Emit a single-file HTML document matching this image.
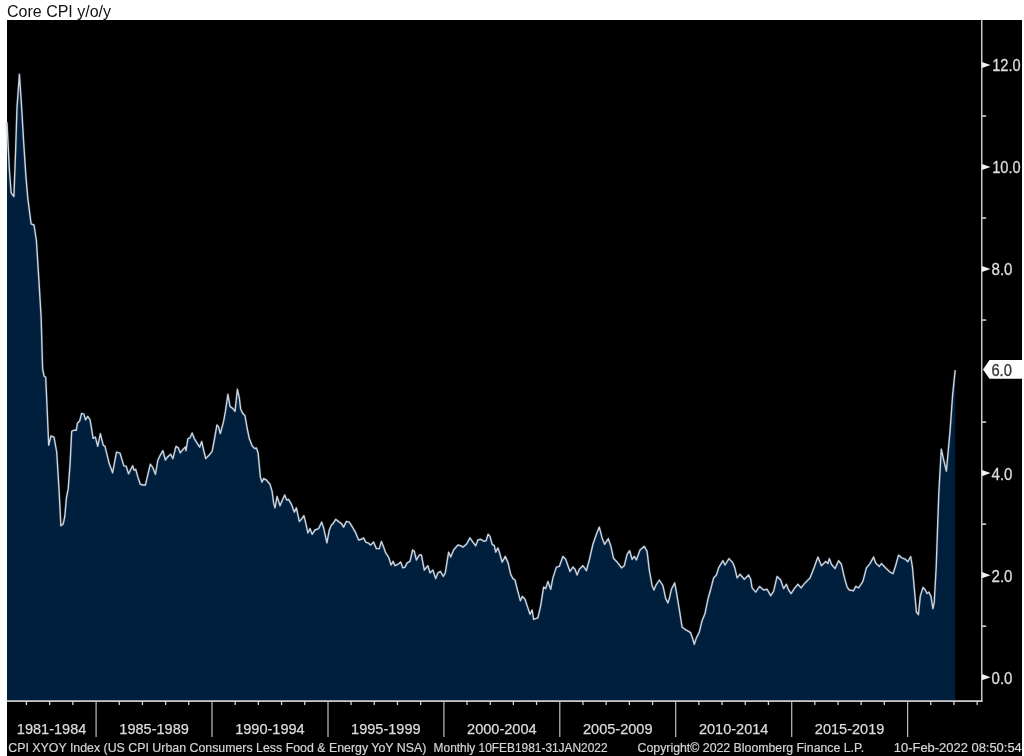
<!DOCTYPE html>
<html><head><meta charset="utf-8"><style>
html,body{margin:0;padding:0;width:1024px;height:756px;overflow:hidden;background:#fff;}
#t{will-change:transform;position:absolute;left:7px;top:3px;font-family:"Liberation Sans",sans-serif;font-size:16px;color:#111;white-space:nowrap;}
svg{position:absolute;left:0;top:0;will-change:transform;}
.yl{font-family:"Liberation Sans",sans-serif;font-size:16.8px;fill:#dcdcdc;stroke:#dcdcdc;stroke-width:0.3px;}
.xl{font-family:"Liberation Sans",sans-serif;font-size:15px;fill:#dcdcdc;stroke:#dcdcdc;stroke-width:0.25px;}
.ft{font-family:"Liberation Sans",sans-serif;font-size:12.5px;fill:#d4d4d4;stroke:#d4d4d4;stroke-width:0.2px;}
</style></head><body>
<div id="t">Core CPI y/o/y</div>
<svg width="1024" height="756" viewBox="0 0 1024 756">
<rect x="7" y="20" width="1015" height="736" fill="#000"/>
<path d="M7,701 L7.0,122.4 L7.8,139.0 L9.3,168.7 L11.1,192.8 L13.9,196.5 L15.7,148.3 L17.0,107.6 L19.4,74.3 L21.3,102.0 L23.7,142.8 L25.9,176.1 L27.8,198.3 L31.1,223.8 L34.0,225.0 L36.4,240.5 L38.8,278.6 L41.1,316.7 L42.6,369.0 L44.1,376.1 L45.7,377.3 L47.0,406.0 L48.7,445.2 L51.0,436.0 L54.0,437.1 L56.7,452.0 L59.0,488.9 L60.9,525.7 L63.2,523.9 L64.8,516.5 L66.4,498.0 L68.2,488.9 L70.1,463.6 L71.7,431.3 L74.0,430.2 L76.3,430.2 L77.4,423.3 L79.7,421.0 L81.6,413.4 L83.9,414.1 L85.5,419.8 L87.8,416.4 L90.1,419.8 L93.1,438.3 L95.4,437.1 L97.7,446.3 L100.4,433.6 L103.2,445.2 L105.0,446.3 L109.2,463.6 L112.6,472.8 L116.5,452.1 L120.0,453.2 L123.9,465.9 L126.2,466.3 L128.5,473.9 L132.6,465.7 L134.0,470.0 L135.7,469.3 L137.9,477.1 L140.3,484.3 L142.9,485.0 L145.4,485.0 L147.9,474.3 L150.3,464.3 L152.6,467.1 L155.4,474.3 L157.9,460.0 L160.0,455.7 L162.9,450.7 L165.4,460.0 L167.4,457.1 L170.7,454.3 L172.9,458.6 L176.0,446.4 L178.3,447.9 L180.3,452.9 L183.1,449.3 L185.4,447.1 L186.0,450.7 L187.9,438.6 L190.0,437.9 L192.1,432.9 L194.3,438.6 L196.0,441.4 L199.7,447.1 L201.7,441.4 L203.6,450.0 L205.7,458.6 L209.3,455.0 L212.1,451.4 L214.3,440.0 L216.9,425.0 L218.6,427.1 L220.3,433.6 L223.6,421.4 L225.4,411.4 L227.9,394.3 L230.0,406.4 L232.9,408.6 L235.0,411.4 L237.4,389.3 L239.3,397.9 L240.7,409.3 L242.9,413.6 L245.0,415.7 L247.1,428.0 L249.3,438.6 L252.1,445.7 L254.7,448.6 L256.4,447.9 L258.1,452.9 L259.3,465.7 L260.4,477.1 L261.9,482.1 L263.6,478.6 L266.4,480.0 L270.0,484.3 L272.1,491.4 L273.6,502.9 L275.0,507.9 L277.1,496.4 L280.0,505.7 L282.4,500.0 L284.7,495.0 L286.7,500.0 L288.6,499.3 L291.4,504.3 L294.3,512.1 L296.4,507.9 L299.3,521.4 L301.4,519.3 L303.9,515.7 L305.7,522.9 L307.9,532.9 L310.0,528.6 L312.1,534.3 L315.0,530.0 L318.6,528.6 L321.7,522.1 L323.6,527.9 L326.9,542.9 L329.3,530.0 L331.4,525.0 L333.1,523.6 L335.7,519.3 L339.3,522.1 L341.4,523.6 L343.6,527.1 L346.4,521.4 L349.3,522.1 L352.9,527.9 L355.7,532.9 L358.6,540.0 L361.4,539.3 L363.6,537.9 L365.7,542.1 L367.9,542.9 L370.7,545.0 L373.6,542.1 L376.4,548.6 L379.3,548.6 L381.4,541.4 L383.6,547.1 L385.7,552.9 L388.6,557.1 L391.1,565.0 L393.1,561.4 L395.0,565.7 L397.9,564.3 L400.7,562.1 L402.9,567.9 L405.0,567.1 L407.1,562.9 L410.0,561.4 L412.6,550.0 L414.3,551.4 L416.4,560.0 L419.3,555.0 L421.4,555.0 L424.3,570.0 L427.9,565.7 L430.0,572.9 L432.9,570.0 L435.7,578.6 L437.9,572.9 L440.4,571.4 L443.3,576.4 L445.3,572.9 L448.6,552.1 L450.7,557.1 L453.6,550.0 L457.9,545.0 L460.7,545.7 L462.9,547.1 L466.4,544.3 L470.0,537.9 L472.9,542.1 L475.7,545.7 L477.9,540.0 L480.7,539.3 L484.3,541.4 L486.1,540.7 L488.1,534.3 L490.0,536.4 L492.1,544.3 L494.3,545.7 L495.7,552.1 L497.9,547.9 L500.0,554.3 L502.1,562.1 L505.3,556.4 L508.1,562.9 L510.7,574.3 L512.9,578.6 L515.0,580.0 L517.1,588.6 L520.4,600.7 L522.4,596.4 L525.0,599.3 L527.6,607.1 L530.0,614.3 L532.1,610.0 L533.6,619.3 L535.7,618.6 L537.9,617.9 L540.7,605.7 L543.6,587.1 L545.7,588.6 L547.9,581.4 L550.7,589.3 L552.9,577.9 L556.4,567.1 L559.3,566.4 L562.9,556.4 L565.7,559.3 L570.0,571.4 L572.9,567.1 L575.0,569.3 L577.1,575.0 L579.3,569.3 L582.9,565.7 L586.4,570.7 L589.3,560.0 L592.9,544.3 L596.4,534.3 L599.3,527.1 L602.1,537.9 L604.6,544.3 L608.3,538.6 L610.7,545.7 L613.6,558.6 L617.1,562.1 L620.0,565.7 L621.4,567.9 L624.3,565.7 L627.1,554.3 L629.6,550.7 L632.1,559.3 L634.3,556.4 L636.4,560.0 L640.0,550.0 L644.3,546.4 L647.1,551.4 L649.3,570.0 L652.1,585.7 L654.0,590.0 L655.7,585.7 L659.3,580.0 L662.9,585.7 L665.7,598.6 L667.9,602.9 L669.3,598.6 L671.4,589.3 L674.7,582.9 L676.4,592.1 L679.3,609.3 L682.1,627.1 L685.0,629.3 L688.6,631.4 L690.7,632.9 L692.9,639.3 L694.3,644.3 L696.4,637.9 L699.3,632.1 L702.1,620.7 L705.0,613.6 L707.9,599.3 L710.7,589.3 L713.6,577.9 L716.4,575.0 L718.6,567.9 L722.9,560.7 L725.0,565.0 L729.0,558.6 L732.9,562.9 L735.0,568.6 L737.1,577.9 L740.0,574.3 L744.3,579.3 L748.6,575.0 L750.7,579.3 L752.1,587.9 L755.7,592.1 L759.6,586.4 L763.6,590.0 L767.1,589.3 L770.7,595.7 L773.6,591.4 L777.1,576.4 L780.7,580.0 L783.6,588.6 L786.4,584.3 L788.6,590.0 L791.1,593.6 L794.3,588.6 L797.9,584.3 L801.1,587.9 L805.0,582.9 L810.0,577.9 L814.3,567.1 L817.9,557.1 L821.4,565.7 L825.7,561.4 L827.9,563.6 L829.3,558.6 L831.4,564.3 L835.0,568.6 L838.6,560.7 L841.4,564.3 L844.3,577.1 L847.1,587.1 L849.3,590.0 L853.6,590.7 L855.7,586.4 L858.6,587.9 L862.9,581.4 L866.4,567.9 L870.0,563.6 L873.6,557.1 L875.7,562.9 L879.3,566.4 L881.4,563.6 L885.7,567.9 L890.0,572.1 L893.0,573.7 L895.6,565.7 L898.5,555.1 L901.8,557.8 L905.1,559.1 L907.8,561.7 L910.7,556.5 L912.4,567.0 L914.4,589.5 L916.4,612.0 L918.4,614.7 L920.3,596.1 L923.0,587.5 L925.0,589.5 L927.0,593.5 L928.9,592.2 L930.9,596.1 L932.9,608.7 L934.2,602.8 L936.2,567.0 L938.8,493.2 L941.3,449.2 L943.8,460.5 L946.4,471.1 L950.1,430.4 L952.6,395.2 L955.2,370.1 L955.2,701 Z" fill="#001f3d"/>
<polyline points="7.0,122.4 7.8,139.0 9.3,168.7 11.1,192.8 13.9,196.5 15.7,148.3 17.0,107.6 19.4,74.3 21.3,102.0 23.7,142.8 25.9,176.1 27.8,198.3 31.1,223.8 34.0,225.0 36.4,240.5 38.8,278.6 41.1,316.7 42.6,369.0 44.1,376.1 45.7,377.3 47.0,406.0 48.7,445.2 51.0,436.0 54.0,437.1 56.7,452.0 59.0,488.9 60.9,525.7 63.2,523.9 64.8,516.5 66.4,498.0 68.2,488.9 70.1,463.6 71.7,431.3 74.0,430.2 76.3,430.2 77.4,423.3 79.7,421.0 81.6,413.4 83.9,414.1 85.5,419.8 87.8,416.4 90.1,419.8 93.1,438.3 95.4,437.1 97.7,446.3 100.4,433.6 103.2,445.2 105.0,446.3 109.2,463.6 112.6,472.8 116.5,452.1 120.0,453.2 123.9,465.9 126.2,466.3 128.5,473.9 132.6,465.7 134.0,470.0 135.7,469.3 137.9,477.1 140.3,484.3 142.9,485.0 145.4,485.0 147.9,474.3 150.3,464.3 152.6,467.1 155.4,474.3 157.9,460.0 160.0,455.7 162.9,450.7 165.4,460.0 167.4,457.1 170.7,454.3 172.9,458.6 176.0,446.4 178.3,447.9 180.3,452.9 183.1,449.3 185.4,447.1 186.0,450.7 187.9,438.6 190.0,437.9 192.1,432.9 194.3,438.6 196.0,441.4 199.7,447.1 201.7,441.4 203.6,450.0 205.7,458.6 209.3,455.0 212.1,451.4 214.3,440.0 216.9,425.0 218.6,427.1 220.3,433.6 223.6,421.4 225.4,411.4 227.9,394.3 230.0,406.4 232.9,408.6 235.0,411.4 237.4,389.3 239.3,397.9 240.7,409.3 242.9,413.6 245.0,415.7 247.1,428.0 249.3,438.6 252.1,445.7 254.7,448.6 256.4,447.9 258.1,452.9 259.3,465.7 260.4,477.1 261.9,482.1 263.6,478.6 266.4,480.0 270.0,484.3 272.1,491.4 273.6,502.9 275.0,507.9 277.1,496.4 280.0,505.7 282.4,500.0 284.7,495.0 286.7,500.0 288.6,499.3 291.4,504.3 294.3,512.1 296.4,507.9 299.3,521.4 301.4,519.3 303.9,515.7 305.7,522.9 307.9,532.9 310.0,528.6 312.1,534.3 315.0,530.0 318.6,528.6 321.7,522.1 323.6,527.9 326.9,542.9 329.3,530.0 331.4,525.0 333.1,523.6 335.7,519.3 339.3,522.1 341.4,523.6 343.6,527.1 346.4,521.4 349.3,522.1 352.9,527.9 355.7,532.9 358.6,540.0 361.4,539.3 363.6,537.9 365.7,542.1 367.9,542.9 370.7,545.0 373.6,542.1 376.4,548.6 379.3,548.6 381.4,541.4 383.6,547.1 385.7,552.9 388.6,557.1 391.1,565.0 393.1,561.4 395.0,565.7 397.9,564.3 400.7,562.1 402.9,567.9 405.0,567.1 407.1,562.9 410.0,561.4 412.6,550.0 414.3,551.4 416.4,560.0 419.3,555.0 421.4,555.0 424.3,570.0 427.9,565.7 430.0,572.9 432.9,570.0 435.7,578.6 437.9,572.9 440.4,571.4 443.3,576.4 445.3,572.9 448.6,552.1 450.7,557.1 453.6,550.0 457.9,545.0 460.7,545.7 462.9,547.1 466.4,544.3 470.0,537.9 472.9,542.1 475.7,545.7 477.9,540.0 480.7,539.3 484.3,541.4 486.1,540.7 488.1,534.3 490.0,536.4 492.1,544.3 494.3,545.7 495.7,552.1 497.9,547.9 500.0,554.3 502.1,562.1 505.3,556.4 508.1,562.9 510.7,574.3 512.9,578.6 515.0,580.0 517.1,588.6 520.4,600.7 522.4,596.4 525.0,599.3 527.6,607.1 530.0,614.3 532.1,610.0 533.6,619.3 535.7,618.6 537.9,617.9 540.7,605.7 543.6,587.1 545.7,588.6 547.9,581.4 550.7,589.3 552.9,577.9 556.4,567.1 559.3,566.4 562.9,556.4 565.7,559.3 570.0,571.4 572.9,567.1 575.0,569.3 577.1,575.0 579.3,569.3 582.9,565.7 586.4,570.7 589.3,560.0 592.9,544.3 596.4,534.3 599.3,527.1 602.1,537.9 604.6,544.3 608.3,538.6 610.7,545.7 613.6,558.6 617.1,562.1 620.0,565.7 621.4,567.9 624.3,565.7 627.1,554.3 629.6,550.7 632.1,559.3 634.3,556.4 636.4,560.0 640.0,550.0 644.3,546.4 647.1,551.4 649.3,570.0 652.1,585.7 654.0,590.0 655.7,585.7 659.3,580.0 662.9,585.7 665.7,598.6 667.9,602.9 669.3,598.6 671.4,589.3 674.7,582.9 676.4,592.1 679.3,609.3 682.1,627.1 685.0,629.3 688.6,631.4 690.7,632.9 692.9,639.3 694.3,644.3 696.4,637.9 699.3,632.1 702.1,620.7 705.0,613.6 707.9,599.3 710.7,589.3 713.6,577.9 716.4,575.0 718.6,567.9 722.9,560.7 725.0,565.0 729.0,558.6 732.9,562.9 735.0,568.6 737.1,577.9 740.0,574.3 744.3,579.3 748.6,575.0 750.7,579.3 752.1,587.9 755.7,592.1 759.6,586.4 763.6,590.0 767.1,589.3 770.7,595.7 773.6,591.4 777.1,576.4 780.7,580.0 783.6,588.6 786.4,584.3 788.6,590.0 791.1,593.6 794.3,588.6 797.9,584.3 801.1,587.9 805.0,582.9 810.0,577.9 814.3,567.1 817.9,557.1 821.4,565.7 825.7,561.4 827.9,563.6 829.3,558.6 831.4,564.3 835.0,568.6 838.6,560.7 841.4,564.3 844.3,577.1 847.1,587.1 849.3,590.0 853.6,590.7 855.7,586.4 858.6,587.9 862.9,581.4 866.4,567.9 870.0,563.6 873.6,557.1 875.7,562.9 879.3,566.4 881.4,563.6 885.7,567.9 890.0,572.1 893.0,573.7 895.6,565.7 898.5,555.1 901.8,557.8 905.1,559.1 907.8,561.7 910.7,556.5 912.4,567.0 914.4,589.5 916.4,612.0 918.4,614.7 920.3,596.1 923.0,587.5 925.0,589.5 927.0,593.5 928.9,592.2 930.9,596.1 932.9,608.7 934.2,602.8 936.2,567.0 938.8,493.2 941.3,449.2 943.8,460.5 946.4,471.1 950.1,430.4 952.6,395.2 955.2,370.1" fill="none" stroke="#4a6a90" stroke-opacity="0.22" stroke-width="3" stroke-linejoin="round"/>
<polyline points="7.0,122.4 7.8,139.0 9.3,168.7 11.1,192.8 13.9,196.5 15.7,148.3 17.0,107.6 19.4,74.3 21.3,102.0 23.7,142.8 25.9,176.1 27.8,198.3 31.1,223.8 34.0,225.0 36.4,240.5 38.8,278.6 41.1,316.7 42.6,369.0 44.1,376.1 45.7,377.3 47.0,406.0 48.7,445.2 51.0,436.0 54.0,437.1 56.7,452.0 59.0,488.9 60.9,525.7 63.2,523.9 64.8,516.5 66.4,498.0 68.2,488.9 70.1,463.6 71.7,431.3 74.0,430.2 76.3,430.2 77.4,423.3 79.7,421.0 81.6,413.4 83.9,414.1 85.5,419.8 87.8,416.4 90.1,419.8 93.1,438.3 95.4,437.1 97.7,446.3 100.4,433.6 103.2,445.2 105.0,446.3 109.2,463.6 112.6,472.8 116.5,452.1 120.0,453.2 123.9,465.9 126.2,466.3 128.5,473.9 132.6,465.7 134.0,470.0 135.7,469.3 137.9,477.1 140.3,484.3 142.9,485.0 145.4,485.0 147.9,474.3 150.3,464.3 152.6,467.1 155.4,474.3 157.9,460.0 160.0,455.7 162.9,450.7 165.4,460.0 167.4,457.1 170.7,454.3 172.9,458.6 176.0,446.4 178.3,447.9 180.3,452.9 183.1,449.3 185.4,447.1 186.0,450.7 187.9,438.6 190.0,437.9 192.1,432.9 194.3,438.6 196.0,441.4 199.7,447.1 201.7,441.4 203.6,450.0 205.7,458.6 209.3,455.0 212.1,451.4 214.3,440.0 216.9,425.0 218.6,427.1 220.3,433.6 223.6,421.4 225.4,411.4 227.9,394.3 230.0,406.4 232.9,408.6 235.0,411.4 237.4,389.3 239.3,397.9 240.7,409.3 242.9,413.6 245.0,415.7 247.1,428.0 249.3,438.6 252.1,445.7 254.7,448.6 256.4,447.9 258.1,452.9 259.3,465.7 260.4,477.1 261.9,482.1 263.6,478.6 266.4,480.0 270.0,484.3 272.1,491.4 273.6,502.9 275.0,507.9 277.1,496.4 280.0,505.7 282.4,500.0 284.7,495.0 286.7,500.0 288.6,499.3 291.4,504.3 294.3,512.1 296.4,507.9 299.3,521.4 301.4,519.3 303.9,515.7 305.7,522.9 307.9,532.9 310.0,528.6 312.1,534.3 315.0,530.0 318.6,528.6 321.7,522.1 323.6,527.9 326.9,542.9 329.3,530.0 331.4,525.0 333.1,523.6 335.7,519.3 339.3,522.1 341.4,523.6 343.6,527.1 346.4,521.4 349.3,522.1 352.9,527.9 355.7,532.9 358.6,540.0 361.4,539.3 363.6,537.9 365.7,542.1 367.9,542.9 370.7,545.0 373.6,542.1 376.4,548.6 379.3,548.6 381.4,541.4 383.6,547.1 385.7,552.9 388.6,557.1 391.1,565.0 393.1,561.4 395.0,565.7 397.9,564.3 400.7,562.1 402.9,567.9 405.0,567.1 407.1,562.9 410.0,561.4 412.6,550.0 414.3,551.4 416.4,560.0 419.3,555.0 421.4,555.0 424.3,570.0 427.9,565.7 430.0,572.9 432.9,570.0 435.7,578.6 437.9,572.9 440.4,571.4 443.3,576.4 445.3,572.9 448.6,552.1 450.7,557.1 453.6,550.0 457.9,545.0 460.7,545.7 462.9,547.1 466.4,544.3 470.0,537.9 472.9,542.1 475.7,545.7 477.9,540.0 480.7,539.3 484.3,541.4 486.1,540.7 488.1,534.3 490.0,536.4 492.1,544.3 494.3,545.7 495.7,552.1 497.9,547.9 500.0,554.3 502.1,562.1 505.3,556.4 508.1,562.9 510.7,574.3 512.9,578.6 515.0,580.0 517.1,588.6 520.4,600.7 522.4,596.4 525.0,599.3 527.6,607.1 530.0,614.3 532.1,610.0 533.6,619.3 535.7,618.6 537.9,617.9 540.7,605.7 543.6,587.1 545.7,588.6 547.9,581.4 550.7,589.3 552.9,577.9 556.4,567.1 559.3,566.4 562.9,556.4 565.7,559.3 570.0,571.4 572.9,567.1 575.0,569.3 577.1,575.0 579.3,569.3 582.9,565.7 586.4,570.7 589.3,560.0 592.9,544.3 596.4,534.3 599.3,527.1 602.1,537.9 604.6,544.3 608.3,538.6 610.7,545.7 613.6,558.6 617.1,562.1 620.0,565.7 621.4,567.9 624.3,565.7 627.1,554.3 629.6,550.7 632.1,559.3 634.3,556.4 636.4,560.0 640.0,550.0 644.3,546.4 647.1,551.4 649.3,570.0 652.1,585.7 654.0,590.0 655.7,585.7 659.3,580.0 662.9,585.7 665.7,598.6 667.9,602.9 669.3,598.6 671.4,589.3 674.7,582.9 676.4,592.1 679.3,609.3 682.1,627.1 685.0,629.3 688.6,631.4 690.7,632.9 692.9,639.3 694.3,644.3 696.4,637.9 699.3,632.1 702.1,620.7 705.0,613.6 707.9,599.3 710.7,589.3 713.6,577.9 716.4,575.0 718.6,567.9 722.9,560.7 725.0,565.0 729.0,558.6 732.9,562.9 735.0,568.6 737.1,577.9 740.0,574.3 744.3,579.3 748.6,575.0 750.7,579.3 752.1,587.9 755.7,592.1 759.6,586.4 763.6,590.0 767.1,589.3 770.7,595.7 773.6,591.4 777.1,576.4 780.7,580.0 783.6,588.6 786.4,584.3 788.6,590.0 791.1,593.6 794.3,588.6 797.9,584.3 801.1,587.9 805.0,582.9 810.0,577.9 814.3,567.1 817.9,557.1 821.4,565.7 825.7,561.4 827.9,563.6 829.3,558.6 831.4,564.3 835.0,568.6 838.6,560.7 841.4,564.3 844.3,577.1 847.1,587.1 849.3,590.0 853.6,590.7 855.7,586.4 858.6,587.9 862.9,581.4 866.4,567.9 870.0,563.6 873.6,557.1 875.7,562.9 879.3,566.4 881.4,563.6 885.7,567.9 890.0,572.1 893.0,573.7 895.6,565.7 898.5,555.1 901.8,557.8 905.1,559.1 907.8,561.7 910.7,556.5 912.4,567.0 914.4,589.5 916.4,612.0 918.4,614.7 920.3,596.1 923.0,587.5 925.0,589.5 927.0,593.5 928.9,592.2 930.9,596.1 932.9,608.7 934.2,602.8 936.2,567.0 938.8,493.2 941.3,449.2 943.8,460.5 946.4,471.1 950.1,430.4 952.6,395.2 955.2,370.1" fill="none" stroke="#cdd4dc" stroke-width="1.4" stroke-linejoin="round"/>
<rect x="981" y="20" width="1.5" height="682" fill="#c8c8c8"/>
<rect x="7" y="700.2" width="975.5" height="1.8" fill="#c8c8c8"/>
<rect x="25.8" y="701" width="1.3" height="4" fill="#d8d8d8"/><rect x="49.0" y="701" width="1.3" height="4" fill="#d8d8d8"/><rect x="72.2" y="701" width="1.3" height="4" fill="#d8d8d8"/><rect x="95.5" y="701" width="1.2" height="36" fill="#bdbdbd"/><rect x="118.6" y="701" width="1.3" height="4" fill="#d8d8d8"/><rect x="141.8" y="701" width="1.3" height="4" fill="#d8d8d8"/><rect x="165.0" y="701" width="1.3" height="4" fill="#d8d8d8"/><rect x="188.1" y="701" width="1.3" height="4" fill="#d8d8d8"/><rect x="211.4" y="701" width="1.2" height="36" fill="#bdbdbd"/><rect x="234.5" y="701" width="1.3" height="4" fill="#d8d8d8"/><rect x="257.7" y="701" width="1.3" height="4" fill="#d8d8d8"/><rect x="280.9" y="701" width="1.3" height="4" fill="#d8d8d8"/><rect x="304.1" y="701" width="1.3" height="4" fill="#d8d8d8"/><rect x="327.4" y="701" width="1.2" height="36" fill="#bdbdbd"/><rect x="350.4" y="701" width="1.3" height="4" fill="#d8d8d8"/><rect x="373.6" y="701" width="1.3" height="4" fill="#d8d8d8"/><rect x="396.8" y="701" width="1.3" height="4" fill="#d8d8d8"/><rect x="420.0" y="701" width="1.3" height="4" fill="#d8d8d8"/><rect x="443.3" y="701" width="1.2" height="36" fill="#bdbdbd"/><rect x="466.4" y="701" width="1.3" height="4" fill="#d8d8d8"/><rect x="489.6" y="701" width="1.3" height="4" fill="#d8d8d8"/><rect x="512.7" y="701" width="1.3" height="4" fill="#d8d8d8"/><rect x="535.9" y="701" width="1.3" height="4" fill="#d8d8d8"/><rect x="559.2" y="701" width="1.2" height="36" fill="#bdbdbd"/><rect x="582.3" y="701" width="1.3" height="4" fill="#d8d8d8"/><rect x="605.5" y="701" width="1.3" height="4" fill="#d8d8d8"/><rect x="628.7" y="701" width="1.3" height="4" fill="#d8d8d8"/><rect x="651.9" y="701" width="1.3" height="4" fill="#d8d8d8"/><rect x="675.1" y="701" width="1.2" height="36" fill="#bdbdbd"/><rect x="698.2" y="701" width="1.3" height="4" fill="#d8d8d8"/><rect x="721.4" y="701" width="1.3" height="4" fill="#d8d8d8"/><rect x="744.6" y="701" width="1.3" height="4" fill="#d8d8d8"/><rect x="767.8" y="701" width="1.3" height="4" fill="#d8d8d8"/><rect x="791.1" y="701" width="1.2" height="36" fill="#bdbdbd"/><rect x="814.2" y="701" width="1.3" height="4" fill="#d8d8d8"/><rect x="837.4" y="701" width="1.3" height="4" fill="#d8d8d8"/><rect x="860.5" y="701" width="1.3" height="4" fill="#d8d8d8"/><rect x="883.7" y="701" width="1.3" height="4" fill="#d8d8d8"/><rect x="907.0" y="701" width="1.2" height="36" fill="#bdbdbd"/><rect x="930.1" y="701" width="1.3" height="4" fill="#d8d8d8"/><rect x="953.3" y="701" width="1.3" height="4" fill="#d8d8d8"/><rect x="976.5" y="701" width="1.3" height="4" fill="#d8d8d8"/>
<path d="M982,674.1 L990.5,677.2 L982,680.3 Z" fill="#f0f0f0"/><text x="991.5" y="683.6" class="yl" textLength="21" lengthAdjust="spacingAndGlyphs">0.0</text><path d="M982,572.1 L990.5,575.2 L982,578.3 Z" fill="#f0f0f0"/><text x="991.5" y="581.6" class="yl" textLength="21" lengthAdjust="spacingAndGlyphs">2.0</text><path d="M982,470.0 L990.5,473.1 L982,476.2 Z" fill="#f0f0f0"/><text x="991.5" y="479.5" class="yl" textLength="21" lengthAdjust="spacingAndGlyphs">4.0</text><path d="M982,265.9 L990.5,269.0 L982,272.1 Z" fill="#f0f0f0"/><text x="991.5" y="275.4" class="yl" textLength="21" lengthAdjust="spacingAndGlyphs">8.0</text><path d="M982,163.9 L990.5,167.0 L982,170.1 Z" fill="#f0f0f0"/><text x="992.2" y="173.4" class="yl" textLength="28.5" lengthAdjust="spacingAndGlyphs">10.0</text><path d="M982,61.9 L990.5,65.0 L982,68.1 Z" fill="#f0f0f0"/><text x="992.2" y="71.4" class="yl" textLength="28.5" lengthAdjust="spacingAndGlyphs">12.0</text><rect x="982" y="625.43" width="4.2" height="1.5" fill="#d8d8d8"/><rect x="982" y="523.39" width="4.2" height="1.5" fill="#d8d8d8"/><rect x="982" y="421.35" width="4.2" height="1.5" fill="#d8d8d8"/><rect x="982" y="319.31" width="4.2" height="1.5" fill="#d8d8d8"/><rect x="982" y="217.27" width="4.2" height="1.5" fill="#d8d8d8"/><rect x="982" y="115.23" width="4.2" height="1.5" fill="#d8d8d8"/><path d="M983,369.5 L989.5,360.1 L1024,360.1 L1024,378.8 L989.5,378.8 Z" fill="#ffffff"/><text x="991.4" y="375.6" class="yl" style="fill:#383838;stroke:#383838;stroke-width:0.35px" textLength="20.5" lengthAdjust="spacingAndGlyphs">6.0</text>
<text x="16.8" y="734" class="xl" textLength="69.5" lengthAdjust="spacingAndGlyphs">1981-1984</text><text x="119.3" y="734" class="xl" textLength="69.5" lengthAdjust="spacingAndGlyphs">1985-1989</text><text x="235.2" y="734" class="xl" textLength="69.5" lengthAdjust="spacingAndGlyphs">1990-1994</text><text x="351.1" y="734" class="xl" textLength="69.5" lengthAdjust="spacingAndGlyphs">1995-1999</text><text x="467.1" y="734" class="xl" textLength="69.5" lengthAdjust="spacingAndGlyphs">2000-2004</text><text x="583.0" y="734" class="xl" textLength="69.5" lengthAdjust="spacingAndGlyphs">2005-2009</text><text x="698.9" y="734" class="xl" textLength="69.5" lengthAdjust="spacingAndGlyphs">2010-2014</text><text x="814.8" y="734" class="xl" textLength="69.5" lengthAdjust="spacingAndGlyphs">2015-2019</text>
<text x="8.3" y="751.6" class="ft" textLength="418" lengthAdjust="spacingAndGlyphs">CPI XYOY Index (US CPI Urban Consumers Less Food &amp; Energy YoY NSA)</text>
<text x="433.6" y="751.6" class="ft" textLength="174" lengthAdjust="spacingAndGlyphs">Monthly 10FEB1981-31JAN2022</text>
<text x="637.6" y="751.6" class="ft" textLength="226.5" lengthAdjust="spacingAndGlyphs">Copyright© 2022 Bloomberg Finance L.P.</text>
<text x="893.8" y="751.6" class="ft" textLength="128" lengthAdjust="spacingAndGlyphs">10-Feb-2022 08:50:54</text>
</svg>
</body></html>
